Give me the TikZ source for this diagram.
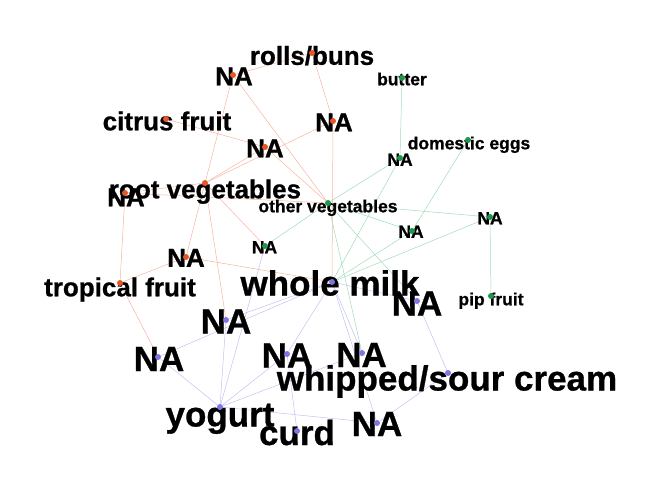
\documentclass[tikz,border=0pt]{standalone}
\usepackage{fontspec}
\setmainfont[BoldFeatures={FakeBold=0.8}]{Liberation Sans}
\usepackage{tikz}
\usetikzlibrary{backgrounds}
\definecolor{rulered}{RGB}{232, 85, 40}
\definecolor{rulegreen}{RGB}{30, 150, 75}
\definecolor{rulepurple}{RGB}{125, 118, 222}
\definecolor{edgered}{RGB}{246, 180, 158}
\definecolor{edgegreen}{RGB}{160, 220, 185}
\definecolor{edgepurple}{RGB}{196, 193, 242}

\begin{document}
\begin{tikzpicture}[x=1pt, y=-1pt,
  dotred/.style={circle, fill=rulered, inner sep=0pt, minimum size=6pt},
  dotgreen/.style={circle, fill=rulegreen, inner sep=0pt, minimum size=6pt},
  dotpurple/.style={circle, fill=rulepurple, inner sep=0pt, minimum size=6pt},
  lbig/.style={font=\fontsize{35}{35}\selectfont\bfseries, inner sep=0pt, text height=25pt, text depth=0pt},
  lmid/.style={font=\fontsize{26}{26}\selectfont\bfseries, inner sep=0pt, text height=18.6pt, text depth=0pt},
  lsmall/.style={font=\fontsize{17.5}{17.5}\selectfont\bfseries, inner sep=0pt, text height=12.5pt, text depth=0pt},
  ered/.style={edgered, line width=0.5pt},
  egreen/.style={edgegreen, line width=0.5pt},
  epurple/.style={edgepurple, line width=0.5pt}]
  \useasboundingbox (0, 0) rectangle (672, 480);

  % Labels
  \node[lmid] (rolls-l) at (312, 55.5) {rolls/buns};
  \node[lmid] (ra-l) at (234, 76) {NA};
  \node[lmid] (citrus-l) at (167, 121) {citrus fruit};
  \node[lmid] (rb-l) at (265, 148) {NA};
  \node[lmid] (rc-l) at (334, 122) {NA};
  \node[lmid] (rootveg-l) at (205, 189) {root vegetables};
  \node[lmid] (rd-l) at (126, 197) {NA};
  \node[lmid] (re-l) at (186, 257.5) {NA};
  \node[lmid] (tropical-l) at (120, 287) {tropical fruit};
  \node[lsmall] (butter-l) at (402, 79) {butter};
  \node[lsmall] (ga-l) at (400, 159.5) {NA};
  \node[lsmall] (eggs-l) at (469, 143) {domestic eggs};
  \node[lsmall] (otherveg-l) at (328, 206) {other vegetables};
  \node[lsmall] (gc-l) at (490, 218) {NA};
  \node[lsmall] (gb-l) at (411, 231.5) {NA};
  \node[lsmall] (gd-l) at (264.5, 247) {NA};
  \node[lsmall] (pip-l) at (491, 299) {pip fruit};
  \node[lbig] (milk-l) at (330, 283) {whole milk};
  \node[lbig] (pa-l) at (417, 303) {NA};
  \node[lbig] (pb-l) at (226, 321) {NA};
  \node[lbig] (pc-l) at (159, 358.5) {NA};
  \node[lbig] (pd-l) at (287, 355) {NA};
  \node[lbig] (pe-l) at (361.5, 354.5) {NA};
  \node[lbig] (cream-l) at (447, 378) {whipped/sour cream};
  \node[lbig] (yogurt-l) at (220, 414) {yogurt};
  \node[lbig] (curd-l) at (297, 432.5) {curd};
  \node[lbig] (pf-l) at (377, 423.5) {NA};

  % Red vertices
  \node[dotred] (rolls) at (312, 53) {};
  \node[dotred] (ra) at (233, 75) {};
  \node[dotred] (citrus) at (166, 119) {};
  \node[dotred] (rb) at (265, 147) {};
  \node[dotred] (rc) at (333, 121) {};
  \node[dotred] (rootveg) at (205, 183) {};
  \node[dotred] (rd) at (125, 193) {};
  \node[dotred] (re) at (186, 257) {};
  \node[dotred] (tropical) at (120, 283) {};

  % Green vertices
  \node[dotgreen] (butter) at (402, 78) {};
  \node[dotgreen] (ga) at (400, 158) {};
  \node[dotgreen] (eggs) at (468, 140) {};
  \node[dotgreen] (otherveg) at (328, 203) {};
  \node[dotgreen] (gc) at (490, 217) {};
  \node[dotgreen] (gb) at (412, 231) {};
  \node[dotgreen] (gd) at (265, 246) {};
  \node[dotgreen] (pip) at (491, 296) {};

  % Purple vertices
  \node[dotpurple] (milk) at (332, 282) {};
  \node[dotpurple] (pa) at (417, 301) {};
  \node[dotpurple] (pb) at (226, 320) {};
  \node[dotpurple] (pc) at (158, 357) {};
  \node[dotpurple] (pd) at (287, 354) {};
  \node[dotpurple] (pe) at (362, 353) {};
  \node[dotpurple] (cream) at (448, 373) {};
  \node[dotpurple] (yogurt) at (220, 407) {};
  \node[dotpurple] (curd) at (297, 431) {};
  \node[dotpurple] (pf) at (377, 423) {};

  \begin{scope}[on background layer]
    % Red edges
    \draw[ered] (rolls) -- (ra) -- (rootveg) (ra) -- (otherveg);
    \draw[ered] (citrus) -- (rb) -- (rootveg) (rb) -- (otherveg);
    \draw[ered] (rolls) -- (rc) -- (rootveg) (rc) -- (milk);
    \draw[ered] (rootveg) -- (rd) -- (tropical) (rd) -- (otherveg);
    \draw[ered] (rootveg) -- (re) -- (tropical) (re) -- (milk);
    \draw[ered] (rootveg) -- (gd);
    \draw[ered] (rootveg) -- (pb);
    \draw[ered] (tropical) -- (pc);

    % Green edges
    \draw[egreen] (butter) -- (ga) -- (otherveg) (ga) -- (milk);
    \draw[egreen] (eggs) -- (gb) -- (otherveg) (gb) -- (milk);
    \draw[egreen] (pip) -- (gc) -- (otherveg) (gc) -- (milk);
    \draw[egreen] (otherveg) -- (gd);
    \draw[egreen] (otherveg) -- (pa);
    \draw[egreen] (otherveg) -- (pe);

    % Purple edges
    \draw[epurple] (gd) -- (yogurt);
    \draw[epurple] (milk) -- (pa) -- (cream);
    \draw[epurple] (milk) -- (pb) -- (yogurt);
    \draw[epurple] (milk) -- (pc) -- (yogurt);
    \draw[epurple] (milk) -- (pd) -- (yogurt) (pd) -- (curd);
    \draw[epurple] (milk) -- (pe) -- (yogurt);
    \draw[epurple] (milk) -- (pf) -- (yogurt) (pf) -- (cream);
  \end{scope}
\end{tikzpicture}
\end{document}
